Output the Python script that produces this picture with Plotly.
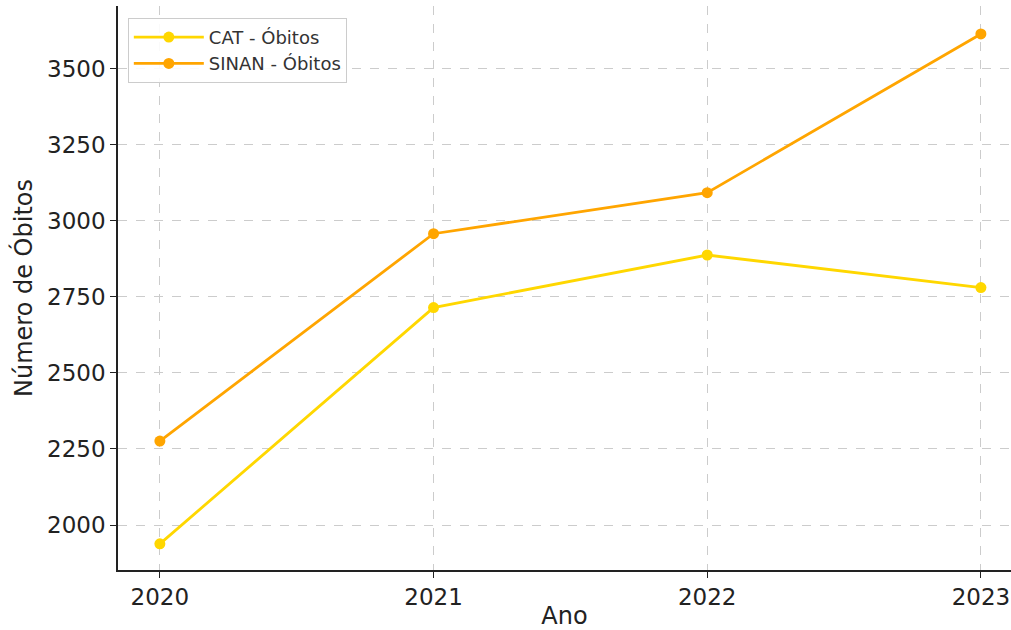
import plotly.graph_objects as go

years = [2020, 2021, 2022, 2023]
cat_obitos = [1938, 2715, 2888, 2781]
sinan_obitos = [2276, 2958, 3093, 3615]
y_ticks = [2000, 2250, 2500, 2750, 3000, 3250, 3500]

fig = go.Figure()
fig.add_trace(go.Scatter(x=years, y=cat_obitos, mode="lines+markers", name="CAT - Óbitos",
                         line=dict(color="#FFD700", width=2.8), marker=dict(size=11, color="#FFD700")))
fig.add_trace(go.Scatter(x=years, y=sinan_obitos, mode="lines+markers", name="SINAN - Óbitos",
                         line=dict(color="#FFA500", width=2.8), marker=dict(size=11, color="#FFA500")))

axis_common = dict(showline=True, linecolor="#222", linewidth=1.6, ticks="outside", ticklen=6,
                   tickcolor="#222", tickwidth=1.3, showgrid=True, gridcolor="#cccccc",
                   griddash="dash", gridwidth=1, zeroline=False,
                   tickfont=dict(size=23, color="#222"))
fig.update_layout(
    width=1011, height=630,
    margin=dict(l=118, r=0, t=6, b=60),
    paper_bgcolor="white", plot_bgcolor="white",
    font=dict(family="DejaVu Sans", color="#222"),
    xaxis=dict(range=[2019.847, 2023.11], tickvals=years, ticktext=[str(y) for y in years],
               title=dict(text="Ano", font=dict(size=24), standoff=4), **axis_common),
    yaxis=dict(range=[1852, 3707], tickvals=y_ticks,
               title=dict(text="Número de Óbitos", font=dict(size=24), standoff=8), **axis_common),
    legend=dict(x=0.011, y=0.979, xanchor="left", yanchor="top", bgcolor="rgba(255,255,255,0.9)",
                bordercolor="#cccccc", borderwidth=1, font=dict(size=18, color="#333"),
                itemwidth=70),
    showlegend=True,
)
fig.write_html("out.html")
